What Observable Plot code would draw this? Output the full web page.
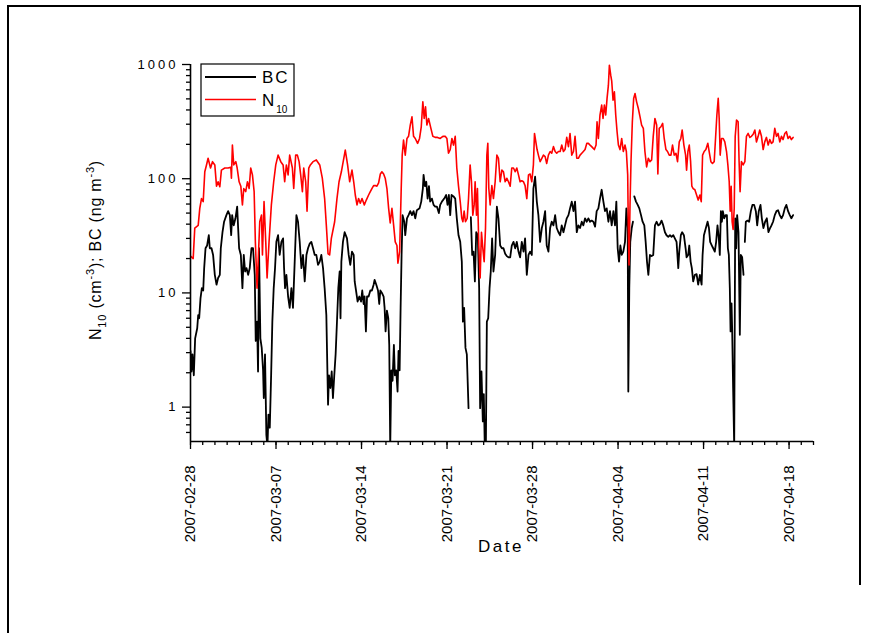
<!DOCTYPE html>
<html><head><meta charset="utf-8">
<script src="https://cdn.jsdelivr.net/npm/d3@7"></script>
<script src="https://cdn.jsdelivr.net/npm/@observablehq/plot@0.6"></script>
<style>
html,body{margin:0;padding:0;background:#fff;overflow:hidden;}
#wrap{position:relative;width:869px;height:633px;overflow:hidden;}
#wrap svg{position:absolute;left:0;top:0;}
.bl{position:absolute;background:#000;}
g[aria-label="y-axis tick label"] text{letter-spacing:3px;}
</style></head><body><div id="wrap">
<div class="bl" style="left:7px;top:5px;width:853px;height:1.5px"></div>
<div class="bl" style="left:7px;top:5px;width:1.8px;height:640px"></div>
<div class="bl" style="left:859px;top:5px;width:1.5px;height:580px"></div>
</div>
<script>
const startDate = "2007-02-28";
const endDate = "2007-04-20";
const tickLabels = ["2007-02-28","2007-03-07","2007-03-14","2007-03-21","2007-03-28","2007-04-04","2007-04-11","2007-04-18"];
const yMajor = [1, 10, 100, 1000];
const yMinor = [0.6,0.7,0.8,0.9,2,3,4,5,6,7,8,9,20,30,40,50,60,70,80,90,200,300,400,500,600,700,800,900];
const seriesNames = ["BC", "N10"];

// days since 2007-02-28 00:00 UTC
const bcDay = [0,0.08,0.16,0.27,0.38,0.55,0.63,0.71,0.82,0.93,1.04,1.12,1.23,1.36,1.50,1.58,1.72,1.85,1.99,2.13,2.26,2.40,2.48,2.62,2.75,2.94,3.08,3.22,3.33,3.41,3.54,3.68,3.82,3.90,3.98,4.12,4.25,4.36,4.47,4.58,4.72,4.85,4.99,5.12,5.26,5.34,5.45,5.53,5.61,5.72,5.83,5.94,6.00,6.10,6.21,6.30,6.38,6.49,6.60,6.70,6.81,6.92,7.03,7.17,7.30,7.44,7.58,7.66,7.74,7.85,7.99,8.12,8.26,8.39,8.53,8.67,8.80,8.94,9.08,9.21,9.35,9.49,9.62,9.76,9.89,10.03,10.17,10.30,10.44,10.58,10.71,10.85,10.98,11.12,11.26,11.34,11.45,11.56,11.66,11.77,11.88,11.99,12.10,12.21,12.28,12.35,12.48,12.62,12.81,12.95,13.08,13.22,13.36,13.44,13.55,13.68,13.82,13.96,14.06,14.17,14.25,14.36,14.45,14.58,14.72,14.85,14.99,15.07,15.21,15.35,15.45,15.54,15.67,15.81,15.89,15.97,16.08,16.19,16.27,16.35,16.44,16.54,16.65,16.73,16.84,16.95,17.03,17.12,17.20,17.28,17.36,17.50,17.58,17.72,17.85,17.99,18.13,18.26,18.40,18.53,18.75,18.89,19.02,19.08,19.19,19.30,19.41,19.52,19.62,19.76,19.90,20.03,20.17,20.33,20.44,20.58,20.77,20.93,21.04,21.15,21.26,21.37,21.53,21.67,21.80,21.94,22.08,22.21,22.30,22.40,22.51,22.62,22.76,22.85,22.95,23.06,23.17,23.28,23.39,23.52,23.63,23.71,23.82,23.93,24.01,24.09,24.18,24.26,24.37,24.48,24.58,24.69,24.80,24.94,25.08,25.21,25.35,25.49,25.62,25.76,25.89,26.03,26.17,26.30,26.44,26.58,26.71,26.85,26.98,27.12,27.26,27.39,27.53,27.67,27.80,27.94,28.07,28.21,28.35,28.48,28.62,28.76,28.89,29.03,29.16,29.30,29.44,29.57,29.71,29.85,29.98,30.12,30.26,30.39,30.53,30.66,30.80,30.94,31.07,31.21,31.35,31.48,31.62,31.75,31.89,32.03,32.16,32.30,32.44,32.57,32.71,32.84,32.98,33.12,33.25,33.39,33.52,33.66,33.80,33.93,34.07,34.21,34.34,34.48,34.62,34.75,34.86,34.97,35.08,35.19,35.30,35.43,35.57,35.68,35.79,35.84,35.92,36.00,36.12,36.22,36.27,36.33,36.47,36.61,36.74,36.88,37.01,37.15,37.26,37.37,37.48,37.61,37.75,37.88,38.02,38.16,38.29,38.43,38.56,38.70,38.84,38.97,39.11,39.25,39.38,39.52,39.65,39.79,39.93,40.01,40.14,40.25,40.39,40.53,40.61,40.74,40.83,40.94,41.04,41.15,41.29,41.43,41.56,41.70,41.84,41.92,42.03,42.19,42.33,42.44,42.54,42.68,42.79,42.92,43.03,43.14,43.25,43.33,43.42,43.50,43.58,43.69,43.80,43.91,43.99,44.07,44.15,44.21,44.29,44.34,44.42,44.51,44.59,44.67,44.75,44.86,44.97,45.05,45.16,45.27,45.32,45.38,45.46,45.60,45.73,45.87,46.00,46.14,46.28,46.39,46.52,46.66,46.77,46.90,47.04,47.18,47.31,47.45,47.56,47.69,47.83,47.97,48.10,48.24,48.38,48.51,48.65,48.78,48.92,49.06,49.19,49.33];
const bcVal = [3.1,2.05,2.9,1.9,4.0,4.9,6.4,6.0,9.0,11,10.5,16.5,24.6,26,32,24.6,24.6,21.5,14.4,11.8,13.5,14.4,24.6,34,42,48,52,48,32,48,39,45,57,37,24.6,21.5,11,21.5,15.4,16.5,14.4,16.5,24.6,24.6,14.4,3.8,5.6,2.05,24.6,4,3.3,2.1,1.2,2.9,0.57,0.45,0.86,0.66,1.9,5.6,11,16.5,28,32,21.5,28,30,16.5,11,14.4,9.3,7.4,11,7.4,18.8,48,42,28,16.5,21.5,12.6,21.5,24.6,27,28,24.6,21.5,21.5,17.6,18.8,21.5,16.5,11,6.4,1.05,1.9,1.47,2.05,1.2,1.9,2.9,5.6,11,15.4,6,18.8,28,34,30,21.5,17.6,23,21.5,12.6,10.5,8.4,9.3,8.4,10.5,8,9.3,4.6,9.3,9.3,10.5,10.5,11.8,13,11.8,10.5,8,10.5,10,9.3,7.4,4.6,7,6,3.5,0.45,2.1,1.7,3.5,1.9,2.1,1.37,3.1,2.1,7.4,21.5,48,42,32,45,48,52,48,52,45,53,55,63,82,108,86,94,67,86,63,67,59,57,57,50,59,63,67,72,59,72,48,72,70,67,45,32,28,18.8,5.6,7.4,3.3,2.9,0.98,null,46,21.5,23,12.6,34,32,11,0.98,2.05,0.75,1.3,0.45,0.45,5.6,6,11,15.4,30,15.4,21.5,57,45,26,24.6,24.6,22,21,20.5,20.5,26,28,24.6,28,23,20.5,28,23,30,14.4,21.5,23,21.5,82,104,63,48,28,37,42,52,26,23,37,42,39,48,37,34,32,39,34,39,45,48,55,63,52,63,34,39,37,42,39,45,42,45,42,43,42,38,52,55,67,80,63,52,55,42,52,39,52,39,63,24.6,18.8,26,21.5,23,28,55,37,1.37,11,28,37,42,null,70,63,59,55,48,42,39,28,18.8,14.4,21.5,21,21.5,39,42,39,40,43,39,34,32,31,32,31,32,30,28,16.5,23,32,34,32,24.6,20.5,21.5,26,18.8,16.5,12.6,14.4,14.6,11.8,14.4,11.8,21.5,32,37,42,37,28,26,24.6,23,28,39,30,21.5,52,42,52,45,48,48,24.6,21.5,11,4.6,8.1,4.9,1.47,0.45,45,24.6,48,34,4.3,21.5,20.5,14.4,null,28,42,43,42,52,59,59,52,39,52,59,45,37,42,45,34,37,39,42,48,52,53,48,45,48,55,59,52,48,45,48];

const n10Day = [0,0.22,0.35,0.63,0.76,0.90,1.04,1.17,1.31,1.44,1.64,1.80,1.99,2.13,2.26,2.40,2.53,2.81,3.08,3.30,3.35,3.43,3.54,3.71,3.82,3.98,4.12,4.25,4.36,4.52,4.66,4.80,4.93,5.07,5.21,5.31,5.45,5.56,5.67,5.81,5.89,6.02,6.16,6.27,6.43,6.62,6.81,6.98,7.17,7.39,7.58,7.71,7.85,7.99,8.12,8.34,8.45,8.61,8.75,8.89,9.02,9.16,9.27,9.43,9.54,9.68,9.81,10.03,10.30,10.58,10.79,10.98,11.12,11.26,11.39,11.53,11.80,11.99,12.16,12.35,12.67,12.86,13.03,13.22,13.36,13.49,13.63,13.76,13.90,14.04,14.23,14.39,14.58,14.72,14.85,14.99,15.13,15.26,15.40,15.54,15.67,15.81,15.94,16.08,16.22,16.35,16.49,16.63,16.76,16.90,16.98,17.12,17.25,17.33,17.44,17.58,17.72,17.85,17.99,18.13,18.26,18.40,18.59,18.75,18.89,19.02,19.13,19.24,19.35,19.49,19.68,19.84,20.03,20.22,20.44,20.66,20.85,20.99,21.12,21.26,21.40,21.53,21.67,21.80,21.94,22.08,22.21,22.30,22.40,22.51,22.65,22.76,22.89,23.00,23.11,23.22,23.30,23.41,23.49,23.60,23.71,23.82,23.93,24.04,24.15,24.26,24.34,24.42,24.53,24.67,24.80,24.94,25.08,25.21,25.35,25.49,25.62,25.76,25.89,26.03,26.17,26.30,26.44,26.58,26.71,26.85,26.98,27.12,27.26,27.39,27.53,27.67,27.80,27.94,28.07,28.16,28.27,28.37,28.48,28.62,28.76,28.89,29.03,29.16,29.30,29.44,29.57,29.71,29.85,29.98,30.12,30.26,30.39,30.53,30.66,30.80,30.94,31.07,31.21,31.35,31.48,31.62,31.75,31.89,32.03,32.16,32.30,32.44,32.57,32.71,32.84,33.06,33.20,33.28,33.39,33.52,33.66,33.77,33.88,33.99,34.10,34.21,34.29,34.40,34.48,34.59,34.70,34.81,34.92,35.03,35.16,35.30,35.43,35.57,35.68,35.79,35.84,35.90,35.98,36.06,36.17,36.28,36.39,36.52,36.66,36.80,36.93,37.07,37.20,37.34,37.48,37.61,37.75,37.88,38.02,38.16,38.26,38.37,38.51,38.65,38.78,38.92,39.05,39.19,39.33,39.46,39.60,39.74,39.87,40.01,40.14,40.25,40.39,40.53,40.61,40.72,40.83,40.94,41.04,41.15,41.29,41.43,41.56,41.70,41.81,41.92,42.05,42.19,42.35,42.46,42.60,42.73,42.87,42.98,43.09,43.20,43.28,43.36,43.47,43.61,43.74,43.88,43.99,44.10,44.18,44.26,44.34,44.42,44.51,44.59,44.70,44.83,44.91,44.99,45.10,45.24,45.38,45.51,45.65,45.79,45.92,46.06,46.20,46.33,46.47,46.60,46.74,46.88,47.01,47.15,47.29,47.42,47.56,47.69,47.83,47.97,48.10,48.24,48.38,48.51,48.65,48.78,48.92,49.06,49.19,49.33];
const n10Val = [21,20,37,39,55,67,63,115,132,151,124,141,132,86,94,85,119,124,124,126,101,197,132,141,124,94,86,59,82,77,94,82,124,108,77,28,11,21.5,42,48,21.5,63,28,13.5,28,59,94,132,161,141,132,94,132,108,161,124,82,161,161,141,108,77,124,94,52,124,132,141,146,132,101,67,39,22,21.5,30,42,67,94,115,178,132,94,119,94,72,59,67,61,67,59,65,72,77,82,87,87,86,92,110,115,110,101,82,55,41,55,39,28,26,18.2,23,82,161,218,161,225,235,295,348,235,225,204,225,285,471,337,427,295,337,276,235,230,230,225,235,235,225,167,180,225,197,235,124,86,63,45,42,52,42,45,67,132,94,48,59,94,48,82,26,13.5,34,24.6,18.8,37,161,204,82,59,87,67,94,161,151,94,119,115,94,101,94,86,124,124,115,124,108,94,96,94,87,67,108,110,94,132,249,210,180,161,141,151,161,156,136,161,173,167,191,173,167,173,173,197,173,180,230,191,249,161,173,235,151,151,161,167,173,180,204,204,197,191,180,197,315,225,361,441,337,441,361,505,659,986,806,720,488,576,361,258,197,180,225,173,197,173,108,37,17.6,59,141,315,505,557,471,412,348,295,276,173,127,151,141,146,235,337,295,110,276,285,305,225,180,173,161,161,197,161,167,141,210,225,267,197,161,119,173,197,141,86,82,80,72,65,72,63,161,173,180,204,173,141,136,141,225,361,505,337,161,225,225,210,173,132,94,52,86,42,36,55,235,326,315,141,77,141,132,141,235,249,230,235,245,267,210,235,267,235,180,210,230,197,220,204,210,276,235,249,210,235,220,249,258,225,235,220,230];

const t0 = Date.UTC(2007, 1, 28);
const toDate = d => new Date(t0 + d * 864e5);
const bc = bcDay.map((d, i) => ({t: toDate(d), v: bcVal[i]}));
const n10 = n10Day.map((d, i) => ({t: toDate(d), v: n10Val[i]}));
const x0 = new Date(startDate), x1 = new Date(endDate);
const dayTicks = d3.utcDays(x0, new Date(+x1 + 1));
const weekTicks = tickLabels.map(s => new Date(s));

const FONT = "'Liberation Sans', Arial, Helvetica, sans-serif";
const plot = Plot.plot({
  width: 869, height: 633,
  marginLeft: 190, marginRight: 56, marginTop: 64, marginBottom: 192,
  style: {fontFamily: FONT, background: "transparent", color: "#000", overflow: "visible"},
  x: {type: "utc", domain: [x0, x1]},
  y: {type: "log", domain: [0.5, 1000]},
  marks: [
    Plot.axisX({ticks: dayTicks, tickSize: 4, tickFormat: () => "", label: null, strokeWidth: 1.3}),
    Plot.axisX({ticks: weekTicks, tickSize: 8, tickPadding: 16, tickRotate: -90, fontSize: 15,
      tickFormat: d3.utcFormat("%Y-%m-%d"), label: null, strokeWidth: 1.3}),
    Plot.axisY({ticks: yMinor, tickSize: 4, tickFormat: () => "", label: null, strokeWidth: 1.3}),
    Plot.axisY({ticks: yMajor, tickSize: 8, tickPadding: 4, fontSize: 13, tickFormat: d3.format("d"), label: null, strokeWidth: 1.3}),
    Plot.lineY(bc, {x: "t", y: "v", stroke: "#000000", strokeWidth: 1.8, clip: true}),
    Plot.lineY(n10, {x: "t", y: "v", stroke: "#ff0000", strokeWidth: 1.6, clip: true}),
    Plot.ruleX([x0], {stroke: "#000", strokeWidth: 1.6}),
    Plot.ruleY([0.5], {stroke: "#000", strokeWidth: 1.6})
  ]
});
document.getElementById("wrap").appendChild(plot);

const svg = d3.select(plot);
// y-axis title
const yt = svg.append("text")
  .attr("transform", "translate(101,250) rotate(-90)")
  .attr("text-anchor", "middle")
  .attr("font-family", FONT).attr("font-size", 16)
  .style("letter-spacing", "0.8px").attr("fill", "#000");
yt.append("tspan").text("N");
yt.append("tspan").attr("dy", 5).attr("font-size", 11).text("10");
yt.append("tspan").attr("dy", -5).text(" (cm");
yt.append("tspan").attr("dy", -7).attr("font-size", 11).text("-3");
yt.append("tspan").attr("dy", 7).text("); BC (ng m");
yt.append("tspan").attr("dy", -7).attr("font-size", 11).text("-3");
yt.append("tspan").attr("dy", 7).text(")");

// x-axis title
svg.append("text").attr("x", 501).attr("y", 552).attr("text-anchor", "middle")
  .attr("font-family", FONT).attr("font-size", 17).style("letter-spacing", "2.5px")
  .attr("fill", "#000").text("Date");

// legend
const lg = svg.append("g").attr("text-anchor", "start");
lg.append("rect").attr("x", 201).attr("y", 64).attr("width", 93).attr("height", 52)
  .attr("fill", "#fff").attr("stroke", "#000").attr("stroke-width", 1.2);
lg.append("line").attr("x1", 205).attr("x2", 256).attr("y1", 77).attr("y2", 77)
  .attr("stroke", "#000").attr("stroke-width", 2);
lg.append("line").attr("x1", 205).attr("x2", 256).attr("y1", 99.5).attr("y2", 99.5)
  .attr("stroke", "#ff0000").attr("stroke-width", 1.7);
lg.append("text").attr("x", 262).attr("y", 83.3).attr("text-anchor", "start")
  .attr("font-family", FONT).attr("font-size", 17)
  .style("letter-spacing", "2px").attr("fill", "#000").text(seriesNames[0]);
const nt = lg.append("text").attr("x", 262).attr("y", 106).attr("text-anchor", "start")
  .attr("font-family", FONT).attr("font-size", 17).attr("fill", "#000");
nt.append("tspan").text("N");
nt.append("tspan").attr("dy", 6.5).attr("dx", 2).attr("font-size", 10).text("10");
</script></body></html>
